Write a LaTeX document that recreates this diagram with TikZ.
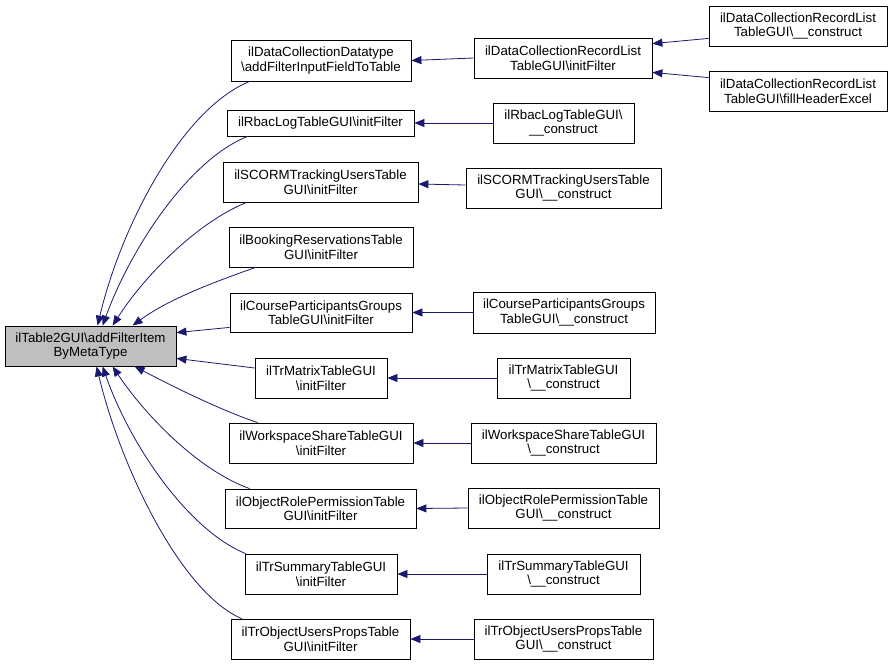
\documentclass[tikz,border=0pt]{standalone}
\usepackage{fontspec}
\setmainfont{Liberation Sans}
\usetikzlibrary{arrows.meta,calc}
\newcommand{\bsl}{\textbackslash}
\definecolor{edgeblue}{RGB}{25,25,112}
\definecolor{rootgray}{RGB}{191,191,191}
\begin{document}
\begin{tikzpicture}[x=1pt,y=-1pt,
  box/.style={draw=black,line width=0.8pt,fill=white,inner sep=0pt,align=center,
    font=\fontsize{13.3}{14.5}\selectfont},
  edge/.style={draw=edgeblue,line width=0.8pt,-{Triangle[length=10pt,width=8pt,fill=edgeblue]}}]
\useasboundingbox (0,0) rectangle (892,665);
% root
\node[box,fill=rootgray,minimum width=171pt,minimum height=40pt] (root) at (90.5,346) {ilTable2GUI\bsl addFilterItem\\ByMetaType};
% column 2
\node[box,minimum width=180pt,minimum height=41pt] (dcd) at (321,60.5) {ilDataCollectionDatatype\\\bsl addFilterInputFieldToTable};
\node[box,minimum width=187pt,minimum height=26pt] (rbac) at (320.5,123) {ilRbacLogTableGUI\bsl initFilter};
\node[box,minimum width=195pt,minimum height=40pt] (scorm) at (320.5,182) {ilSCORMTrackingUsersTable\\GUI\bsl initFilter};
\node[box,minimum width=184pt,minimum height=40pt] (booking) at (321,247) {ilBookingReservationsTable\\GUI\bsl initFilter};
\node[box,minimum width=182pt,minimum height=39pt] (course) at (321,312.5) {ilCourseParticipantsGroups\\TableGUI\bsl initFilter};
\node[box,minimum width=132pt,minimum height=40pt] (trmatrix) at (321,378) {ilTrMatrixTableGUI\\\bsl initFilter};
\node[box,minimum width=184pt,minimum height=40pt] (workspace) at (321,443) {ilWorkspaceShareTableGUI\\\bsl initFilter};
\node[box,minimum width=191pt,minimum height=39pt] (objrole) at (320.5,508.5) {ilObjectRolePermissionTable\\GUI\bsl initFilter};
\node[box,minimum width=152pt,minimum height=40pt] (trsummary) at (321,574) {ilTrSummaryTableGUI\\\bsl initFilter};
\node[box,minimum width=179pt,minimum height=40pt] (trobj) at (320.5,639) {ilTrObjectUsersPropsTable\\GUI\bsl initFilter};
% column 3
\node[box,minimum width=178pt,minimum height=40pt] (rlinit) at (563,58) {ilDataCollectionRecordList\\TableGUI\bsl initFilter};
\node[box,minimum width=141pt,minimum height=40pt] (rbacc) at (563.5,123) {ilRbacLogTableGUI\bsl\\\_\_construct};
\node[box,minimum width=195pt,minimum height=40pt] (scormc) at (563.5,188) {ilSCORMTrackingUsersTable\\GUI\bsl\_\_construct};
\node[box,minimum width=182pt,minimum height=41pt] (coursec) at (564,312.5) {ilCourseParticipantsGroups\\TableGUI\bsl\_\_construct};
\node[box,minimum width=133pt,minimum height=40pt] (trmatrixc) at (563.5,378) {ilTrMatrixTableGUI\\\bsl\_\_construct};
\node[box,minimum width=185pt,minimum height=40pt] (workspacec) at (563.5,443) {ilWorkspaceShareTableGUI\\\bsl\_\_construct};
\node[box,minimum width=191pt,minimum height=40pt] (objrolec) at (563.5,508) {ilObjectRolePermissionTable\\GUI\bsl\_\_construct};
\node[box,minimum width=153pt,minimum height=40pt] (trsummaryc) at (563.5,574) {ilTrSummaryTableGUI\\\bsl\_\_construct};
\node[box,minimum width=179pt,minimum height=40pt] (trobjc) at (563.5,639) {ilTrObjectUsersPropsTable\\GUI\bsl\_\_construct};
% column 4
\node[box,minimum width=178pt,minimum height=40pt] (rlc) at (798,26) {ilDataCollectionRecordList\\TableGUI\bsl\_\_construct};
\node[box,minimum width=178pt,minimum height=40pt] (rlf) at (798,91) {ilDataCollectionRecordList\\TableGUI\bsl fillHeaderExcel};
% edges to root (upper)
\draw[edge] ($(dcd.south west)+(19,0)$) .. controls (180,110) and (120,230) .. ($(root.north west)+(93,0)$);
\draw[edge] ($(rbac.south west)+(21,0)$) .. controls (188,160) and (130,250) .. ($(root.north west)+(98,0)$);
\draw[edge] ($(scorm.south west)+(24,0)$) .. controls (198,222) and (145,275) .. ($(root.north west)+(108,0)$);
\draw[edge] ($(booking.south west)+(27,0)$) .. controls (220,280) and (170,298) .. ($(root.north west)+(128,0)$);
\draw[edge] ($(course.south west)+(0,-5)$) -- ($(root.north east)+(0,7)$);
\draw[edge] ($(trmatrix.west)+(0,-10)$) -- ($(root.south east)+(0,-8)$);
% edges to root (lower)
\draw[edge] ($(workspace.north west)+(29,0)$) .. controls (220,410) and (170,385) .. ($(root.south west)+(130,0)$);
\draw[edge] ($(objrole.north west)+(25,0)$) .. controls (198,470) and (145,415) .. ($(root.south west)+(108,0)$);
\draw[edge] ($(trsummary.north west)+(1,0)$) .. controls (188,530) and (130,445) .. ($(root.south west)+(98,0)$);
\draw[edge] ($(trobj.north west)+(11,0)$) .. controls (180,592) and (120,465) .. ($(root.south west)+(92,0)$);
% column 3 -> column 2
\draw[edge] (rlinit.west) -- (dcd.east);
\draw[edge] (rbacc.west) -- (rbac.east);
\draw[edge] ($(scormc.west)+(0,-3)$) -- ($(scorm.east)+(0,2)$);
\draw[edge] (coursec.west) -- (course.east);
\draw[edge] (trmatrixc.west) -- (trmatrix.east);
\draw[edge] (workspacec.west) -- (workspace.east);
\draw[edge] (objrolec.west) -- (objrole.east);
\draw[edge] (trsummaryc.west) -- (trsummary.east);
\draw[edge] (trobjc.west) -- (trobj.east);
% column 4 -> column 3
\draw[edge] ($(rlc.south west)+(0,-8)$) -- ($(rlinit.north east)+(0,6)$);
\draw[edge] ($(rlf.north west)+(0,7)$) -- ($(rlinit.south east)+(0,-6)$);
\end{tikzpicture}
\end{document}
